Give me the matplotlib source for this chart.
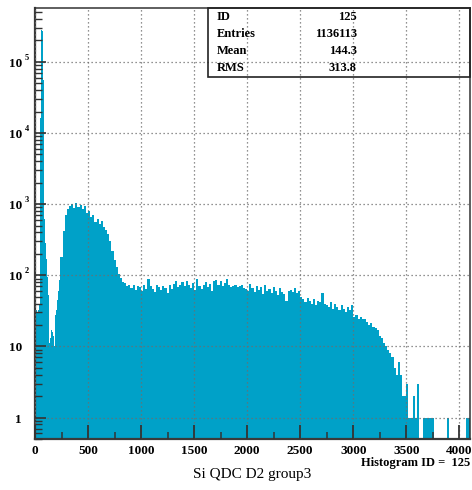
import numpy as np
import matplotlib
matplotlib.use('Agg')
import matplotlib.pyplot as plt
from matplotlib.patches import Rectangle
from matplotlib.ticker import MultipleLocator, NullFormatter

plt.rcParams['font.family'] = ['Liberation Serif', 'DejaVu Serif']

# 直方图数据: 0-240 每 8 道一格, 240-4100 每 20 道一格
low_width = 8
high_width = 20
split_ch = 240
max_ch = 4100

low_counts = [28, 32, 30, 26, 33, 38, 16000, 280000, 270000, 240000,
              55000, 620, 280, 170, 95, 52, 30, 11, 13, 17,
              16, 14, 10, 17, 28, 33, 45, 60, 85, 110]

high_counts = [
    180, 420, 700,
    860, 950, 1000, 880, 1050,
    900, 960, 850, 930, 760,
    800, 650, 700, 560, 620,
    530, 580, 470, 430, 380,
    300, 220, 165, 130, 105,
    92, 80, 78, 70, 72,
    66, 74, 62, 70, 68,
    60, 72, 65, 90, 70,
    64, 58, 74, 68, 62,
    70, 66, 56, 72, 64,
    76, 82, 68, 74, 80,
    70, 84, 72, 66, 78,
    62, 88, 70, 64, 74,
    80, 68, 76, 60, 84,
    86, 74, 82, 70, 78,
    88, 72, 68, 70, 74,
    68, 70, 72, 66, 64,
    60, 76, 66, 58, 70,
    62, 68, 54, 74, 60,
    64, 56, 68, 60, 52,
    66, 58, 54, 44, 60,
    62, 58, 66, 56, 60,
    50, 46, 42, 48, 44,
    40, 46, 38, 44, 42,
    56, 40, 38, 36, 42,
    34, 40, 36, 32, 38,
    34, 30, 36, 32, 38,
    26, 28, 24, 26, 24,
    24, 22, 20, 21, 19,
    18, 17, 14, 13, 11,
    10, 9, 8, 7, 5,
    4, 6, 4, 2, 2,
    3, 1, 1, 2, 1,
    3, 0, 0, 1, 1,
    1, 1, 1, 0, 0,
    0, 0, 0, 0, 1,
    0, 0, 0, 0, 0,
    0, 0, 0, 1, 1,
]

ytick_vals = [1, 10, 100, 1000, 10000, 100000]
ytick_mant = ['1', '10', '10', '10', '10', '10']
ytick_exp = ['', '', '2', '3', '4', '5']

stat_names = ['ID', 'Entries', 'Mean', 'RMS']
stat_values = ['125', '1136113', '144.3', '313.8']

x_title = 'Si QDC D2 group3'
hist_id_text = 'Histogram ID =  125'

edges = np.concatenate([np.arange(0, split_ch, low_width),
                        np.arange(split_ch, max_ch + 1, high_width)])
counts = np.array(low_counts + high_counts, dtype=float)
# 0 计数画到坐标轴以下
heights = np.where(counts > 0, counts, 0.1)

fig = plt.figure(figsize=(4.72, 4.90), dpi=100, facecolor='w')
ax = fig.add_axes([35 / 472, 51 / 490, 435 / 472, 431 / 490])

ax.stairs(heights, edges, fill=True, baseline=0.1, color='#00a1c8', lw=0, zorder=1)

ax.set_yscale('log')
ax.set_xlim(0, max_ch)
ax.set_ylim(0.5, 5.7e5)

ax.set_xticks(np.arange(0, 4001, 500))
ax.xaxis.set_minor_locator(MultipleLocator(250))
ax.set_yticks(ytick_vals)
ax.yaxis.set_major_formatter(NullFormatter())
ax.yaxis.set_minor_formatter(NullFormatter())

ax.set_axisbelow(False)
ax.grid(True, which='major', ls=(0, (1, 2.2)), color='#6e6e6e', lw=0.9)

ax.tick_params(axis='x', which='major', direction='in', length=10, width=1.3,
               color='#333333', pad=4, labelsize=9.5)
ax.tick_params(axis='x', which='minor', direction='in', length=5, width=1.1, color='#333333')
ax.tick_params(axis='y', which='major', direction='in', length=8, width=1.2, color='#333333')
ax.tick_params(axis='y', which='minor', direction='in', length=5, width=1.0, color='#333333')
for lab in ax.get_xticklabels():
    lab.set_fontweight('bold')

for sp in ['left', 'bottom']:
    ax.spines[sp].set_linewidth(1.6)
    ax.spines[sp].set_color('#3a3a3a')
for sp in ['top', 'right']:
    ax.spines[sp].set_linewidth(1.1)
    ax.spines[sp].set_color('#333333')

# y 轴刻度标签 10 加上标
ytrans = ax.get_yaxis_transform()
for val, mant, ex in zip(ytick_vals, ytick_mant, ytick_exp):
    ax.annotate(mant, xy=(0, val), xycoords=ytrans, xytext=(-9.4, -1.4),
                textcoords='offset points', ha='right', va='center',
                fontsize=9.5, fontweight='bold')
    if ex:
        ax.annotate(ex, xy=(0, val), xycoords=ytrans, xytext=(-7.2, 2.8),
                    textcoords='offset points', ha='left', va='center',
                    fontsize=6, fontweight='bold')

# 统计框
ax.add_patch(Rectangle((0.398, 0.84), 0.602, 0.16, transform=ax.transAxes,
                       fill=False, lw=1.2, ec='#222222', clip_on=False, zorder=5))
row_y = [0.979, 0.940, 0.900, 0.861]
for name, val, yy in zip(stat_names, stat_values, row_y):
    ax.text(0.418, yy, name, transform=ax.transAxes, ha='left', va='center',
            fontsize=9, fontweight='bold', zorder=6)
    ax.text(0.740, yy, val, transform=ax.transAxes, ha='right', va='center',
            fontsize=9, fontweight='bold', zorder=6)

fig.text(252 / 472, 1 - 474 / 490, x_title, ha='center', va='center', fontsize=11)
fig.text(470 / 472, 1 - 463 / 490, hist_id_text, ha='right', va='center',
         fontsize=9, fontweight='bold')

plt.savefig('out.png', dpi=100, facecolor='w')
